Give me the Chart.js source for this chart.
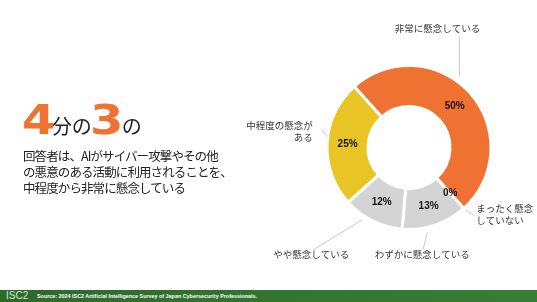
<!DOCTYPE html>
<html><head><meta charset="utf-8">
<script src="https://cdn.jsdelivr.net/npm/chart.js@4/dist/chart.umd.min.js"></script>
<style>
html,body{margin:0;padding:0;background:#fff;}
#wrap{position:relative;width:537px;height:302px;overflow:hidden;background:#fff;}
#c{position:absolute;left:0;top:0;}
#big{position:absolute;left:22px;top:100px;white-space:nowrap;line-height:40px;height:40px;}
#big .num{display:inline-block;font-family:"DejaVu Sans",sans-serif;font-weight:bold;font-size:40px;color:#F07233;transform:scaleX(1.2);transform-origin:left bottom;margin-right:2px;vertical-align:baseline;}
#big .num2{margin-left:-2px;margin-right:4px;}
#big .jp{font-family:"Noto Sans CJK JP",sans-serif;font-size:20px;color:#222;vertical-align:baseline;}
#para{position:absolute;left:23px;top:148px;font-family:"Noto Sans CJK JP",sans-serif;font-size:12.5px;letter-spacing:-0.9px;line-height:16px;color:#222;white-space:nowrap;}
#foot{position:absolute;left:0;top:290px;width:537px;height:12px;background:linear-gradient(to right,#2c6a2c,#3a7d34);}
#foot .logo{position:absolute;left:6px;top:0;font-family:"Liberation Sans",Arial,sans-serif;font-size:10px;line-height:12px;color:#d6ead6;}
#foot .src{position:absolute;left:37px;top:0;font-family:"Liberation Sans",Arial,sans-serif;font-weight:bold;font-size:5.4px;line-height:12px;color:#fff;}
</style></head>
<body>
<div id="wrap">
<canvas id="c" width="537" height="302"></canvas>
<div id="big"><span class="num">4</span><span class="jp">分の</span><span class="num num2">3</span><span class="jp">の</span></div>
<div id="para">回答者は、AIがサイバー攻撃やその他<br>の悪意のある活動に利用されることを、<br>中程度から非常に懸念している</div>
<div id="foot"><span class="logo">ISC2</span><span class="src">Source: 2024 ISC2 Artificial Intelligence Survey of Japan Cybersecurity Professionals.</span></div>
</div>
<script>
// ---- data ----
const categories = ['非常に懸念している', 'まったく懸念していない', 'わずかに懸念している', 'やや懸念している', '中程度の懸念がある'];
const categoryLines = [['非常に懸念している'], ['まったく懸念', 'していない'], ['わずかに懸念している'], ['やや懸念している'], ['中程度の懸念が', 'ある']];
const values = [50, 0, 13, 12, 25];
const valueLabels = ['50%', '0%', '13%', '12%', '25%'];

// ---- style ----
const colors = ['#F07233', '#D4D4D4', '#D4D4D4', '#D4D4D4', '#E8C424'];
// callout layout: fraction along slice, leader length vector, text offset from leader end, alignment
const callouts = [
  {frac: 0.43, r: 87, dx: 0, dy: -40, tx: -22, ty: -8, align: 'center'},
  {frac: 0.5, r: 84, dx: 8, dy: 5, tx: 3, ty: -7, align: 'left'},
  {frac: 0.64, r: 87, dx: -4, dy: 17, tx: -1, ty: 5, align: 'center'},
  {frac: 0.65, r: 86, dx: -49, dy: 30, tx: -2, ty: 5, align: 'center'},
  {frac: 0.55, r: 82, dx: -6, dy: -7, tx: -9, ty: 8, align: 'right'}
];

const labelPlugin = {
  id: 'labels',
  afterDatasetsDraw(chart) {
    const ctx = chart.ctx;
    const meta = chart.getDatasetMeta(0);
    ctx.save();
    meta.data.forEach((arc, i) => {
      const p = arc.getProps(['x', 'y', 'startAngle', 'endAngle', 'innerRadius', 'outerRadius'], true);
      const mid = (p.startAngle + p.endAngle) / 2;
      const rm = (p.innerRadius + p.outerRadius) / 2;
      ctx.fillStyle = '#111';
      ctx.font = 'bold 10px "Liberation Sans", Arial, sans-serif';
      ctx.textAlign = 'center';
      ctx.textBaseline = 'middle';
      ctx.fillText(valueLabels[i], p.x + Math.cos(mid) * rm, p.y + Math.sin(mid) * rm);
      const c = callouts[i];
      const a = p.startAngle + (p.endAngle - p.startAngle) * c.frac;
      const sx = p.x + Math.cos(a) * c.r, sy = p.y + Math.sin(a) * c.r;
      const ex = sx + c.dx, ey = sy + c.dy;
      ctx.strokeStyle = '#C9C9C9';
      ctx.lineWidth = 1;
      ctx.beginPath(); ctx.moveTo(sx, sy); ctx.lineTo(ex, ey); ctx.stroke();
      ctx.fillStyle = '#333';
      ctx.font = '9.5px "Noto Sans CJK JP", sans-serif';
      ctx.textAlign = c.align;
      const lines = categoryLines[i];
      const lh = 12;
      const tx = ex + c.tx;
      const ty0 = c.align === 'right' ? ey + c.ty - (lines.length - 1) * lh : ey + c.ty;
      lines.forEach((ln, k) => ctx.fillText(ln, tx, ty0 + k * lh));
    });
    ctx.restore();
  }
};

new Chart(document.getElementById('c'), {
  type: 'doughnut',
  data: {
    labels: categories,
    datasets: [{data: values, backgroundColor: colors, borderColor: '#fff', borderWidth: 3, hoverOffset: 0}]
  },
  options: {
    responsive: false,
    animation: false,
    rotation: -42,
    cutout: '50%',
    layout: {padding: {left: 325, right: 44, top: 64, bottom: 71}},
    plugins: {legend: {display: false}, tooltip: {enabled: false}}
  },
  plugins: [labelPlugin]
});
</script>
</body></html>
